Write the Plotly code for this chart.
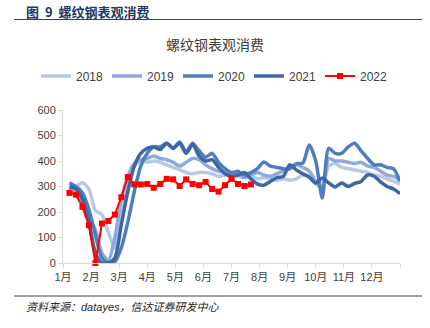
import plotly.graph_objects as go

weeks = list(range(1, 53))
month_labels = ["1月", "2月", "3月", "4月", "5月", "6月", "7月", "8月", "9月", "10月", "11月", "12月"]

v2018 = [290, 300, 315, 290, 205, 190, 120, 60, 200, 320, 380, 400, 395, 400, 395, 385, 375, 365, 355, 350,
         355, 355, 350, 340, 345, 350, 340, 335, 340, 330, 335, 330, 325, 330, 325, 330, 345, 335, 310, 300,
         380, 390, 375, 370, 365, 360, 355, 345, 340, 330, 320, 310]
v2019 = [295, 265, 240, 180, 130, 40, 10, 100, 250, 340, 390, 405, 410, 420, 410, 405, 395, 380, 395, 410,
         405, 385, 370, 360, 355, 345, 350, 335, 345, 355, 345, 340, 350, 360, 370, 385, 375, 360, 320, 290,
         410, 400, 400, 395, 390, 395, 380, 375, 360, 345, 340, 325]
v2020 = [315, 300, 275, 210, 110, 20, 0, 5, 60, 160, 280, 380, 430, 455, 455, 470, 450, 475, 435, 470,
         440, 415, 430, 395, 370, 355, 360, 345, 355, 370, 396, 380, 375, 370, 370, 390, 392, 463, 400, 255,
         450, 430, 430, 455, 470, 440, 410, 385, 385, 375, 370, 320]
v2021 = [300, 290, 250, 160, 40, 0, 0, 20, 150, 280, 380, 430, 450, 455, 445, 470, 450, 470, 430, 465,
         420, 400, 405, 375, 350, 340, 345, 355, 330, 310, 305, 320, 335, 340, 385, 365, 350, 337, 314, 333,
         314, 298, 314, 300, 312, 320, 345, 340, 318, 300, 290, 272]
v2022 = [275, 268, 220, 148, 0, 155, 165, 190, 258, 337, 308, 308, 310, 295, 310, 330, 328, 302, 328, 310,
         305, 318, 290, 280, 305, 330, 310, 302, 308]

years = ["2018", "2019", "2020", "2021"]
series = [v2018, v2019, v2020, v2021]
colors = ["#B7C9E6", "#8FAAD8", "#4E7EBD", "#3D67A3"]

xw = [w * 12 / 52 for w in weeks]

fig = go.Figure()
for name, vals, col in zip(years, series, colors):
    fig.add_trace(go.Scatter(
        x=xw[:len(vals)], y=vals, name=name, mode="lines",
        line=dict(color=col, width=3.5, shape="spline", smoothing=0.7),
        cliponaxis=False,
    ))
fig.add_trace(go.Scatter(
    x=xw[:len(v2022)], y=v2022, name="2022", mode="lines+markers",
    line=dict(color="#FF0000", width=2),
    marker=dict(symbol="square", size=6, color="#FF0000"),
    cliponaxis=False,
))

W, H = 430, 328
L, R, T, B = 63, 400, 110, 263


def px(x):
    return (x - L) / (R - L)


def py(y):
    return (B - y) / (B - T)


fig.update_layout(
    width=W, height=H,
    margin=dict(l=L, r=W - R, t=T, b=H - B, autoexpand=False),
    paper_bgcolor="white", plot_bgcolor="white",
    font=dict(family="Liberation Sans, Arial, Noto Sans CJK SC", size=11, color="#404040"),
    title=dict(text="螺纹钢表观消费", x=0.5, xanchor="center", y=1 - 45 / H, yanchor="middle",
               font=dict(family="Noto Sans CJK SC", size=14, color="#404040")),
    showlegend=True,
    legend=dict(orientation="h", xref="paper", yref="paper",
                x=px(36), xanchor="left", y=py(76), yanchor="middle",
                entrywidth=26, entrywidthmode="pixels",
                font=dict(size=12, color="#404040"), itemwidth=30,
                traceorder="normal", bgcolor="rgba(0,0,0,0)"),
    xaxis=dict(range=[0, 12], tickvals=list(range(13)), ticktext=month_labels + [""],
               showgrid=False, zeroline=False, showline=True, linecolor="#D9D9D9", linewidth=1,
               ticks="outside", ticklen=4, tickcolor="#D9D9D9",
               tickfont=dict(family="Liberation Sans, Noto Sans CJK SC", size=11, color="#404040")),
    yaxis=dict(range=[0, 600], dtick=100, showgrid=False, zeroline=False,
               showline=True, linecolor="#D9D9D9", linewidth=1,
               ticks="outside", ticklen=4, tickcolor="#D9D9D9",
               tickfont=dict(size=11, color="#404040")),
)

fig.add_annotation(text="<b>图  9  螺纹钢表观消费</b>", xref="paper", yref="paper",
                   x=px(24), y=py(11), xanchor="left", yanchor="middle", showarrow=False,
                   font=dict(family="Noto Sans CJK SC", size=13, color="#1F3864"))
fig.add_shape(type="line", xref="paper", yref="paper", x0=px(14), x1=px(422), y0=py(19.5), y1=py(19.5),
              line=dict(color="#404040", width=1.2))
fig.add_shape(type="line", xref="paper", yref="paper", x0=px(14), x1=px(422), y0=py(296), y1=py(296),
              line=dict(color="#7F7F7F", width=1.5))
fig.add_annotation(text="<i>资料来源：datayes，信达证券研发中心</i>", xref="paper", yref="paper",
                   x=px(24), y=py(307), xanchor="left", yanchor="middle", showarrow=False,
                   font=dict(family="Liberation Sans, Noto Sans CJK SC", size=11, color="#262626"))

fig.write_html("out.html")
